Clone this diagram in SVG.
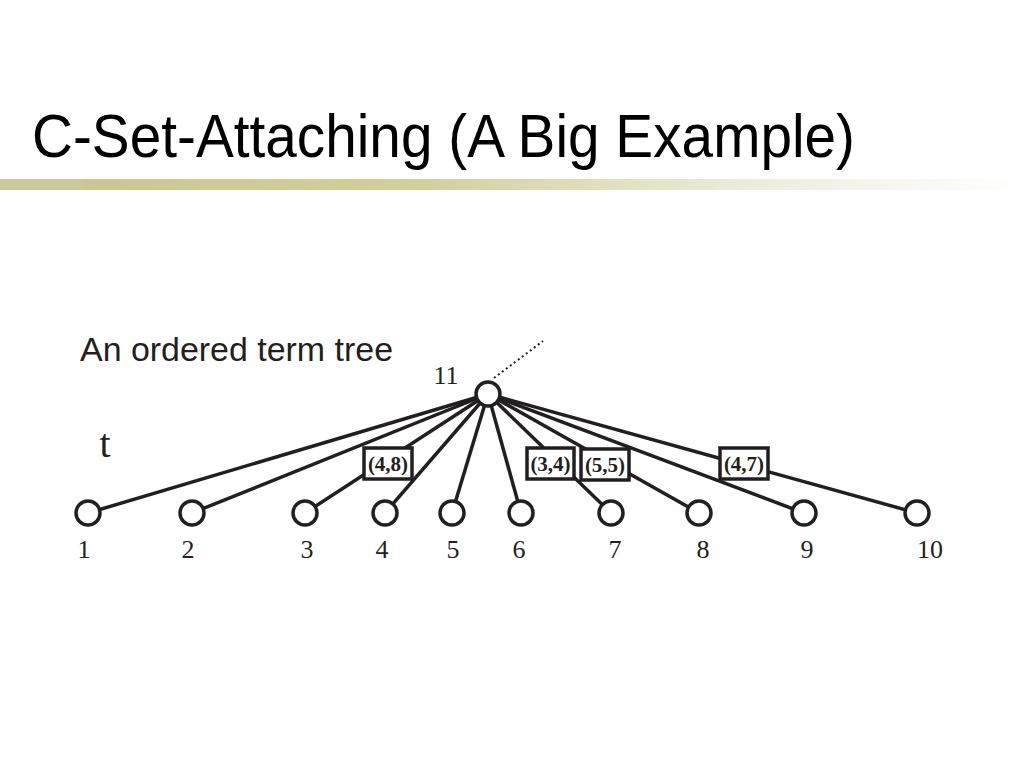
<svg xmlns="http://www.w3.org/2000/svg" width="1024" height="768" viewBox="0 0 1024 768">
  <defs>
    <linearGradient id="bar" x1="0" y1="0" x2="1" y2="0">
      <stop offset="0" stop-color="#c6c692"/>
      <stop offset="0.4" stop-color="#cfd09a"/>
      <stop offset="0.75" stop-color="#eeeede"/>
      <stop offset="1" stop-color="#ffffff"/>
    </linearGradient>
    <style>
      .edge { stroke: #231f20; stroke-width: 3.5; fill: none; }
      .node { fill: #ffffff; stroke: #231f20; stroke-width: 3.5; }
      .box { fill: #ffffff; stroke: #231f20; stroke-width: 3.5; }
      .lbl { font-family: "Liberation Serif", "Times New Roman", serif; font-size: 26px; fill: #231f20; text-anchor: middle; }
      .blbl { font-family: "Liberation Serif", "Times New Roman", serif; font-size: 21px; font-weight: bold; fill: #231f20; text-anchor: middle; }
    </style>
  </defs>
  <rect width="1024" height="768" fill="#ffffff"/>
  <text x="32" y="157" font-family="Liberation Sans, Arial, sans-serif" font-size="61" fill="#000000" textLength="823" lengthAdjust="spacingAndGlyphs">C-Set-Attaching (A Big Example)</text>
  <rect x="0" y="179" width="1024" height="11" fill="url(#bar)"/>
  <rect x="0" y="179" width="83" height="11" fill="#c9c99a"/>
  <text x="80" y="361" font-family="Liberation Sans, Arial, sans-serif" font-size="33" fill="#231f20" textLength="313" lengthAdjust="spacingAndGlyphs">An ordered term tree</text>
  <text x="105" y="457" font-family="Liberation Serif, Times New Roman, serif" font-size="40" fill="#231f20" text-anchor="middle">t</text>

  <g id="connectors">
    <line class="edge" x1="488" y1="394" x2="88" y2="513"/>
    <line class="edge" x1="488" y1="394" x2="192" y2="513"/>
    <line class="edge" x1="488" y1="394" x2="305" y2="513"/>
    <line class="edge" x1="488" y1="394" x2="385" y2="513"/>
    <line class="edge" x1="488" y1="394" x2="452" y2="513"/>
    <line class="edge" x1="488" y1="394" x2="521" y2="513"/>
    <line class="edge" x1="488" y1="394" x2="611" y2="513"/>
    <line class="edge" x1="488" y1="394" x2="699" y2="513"/>
    <line class="edge" x1="488" y1="394" x2="804" y2="513"/>
    <line class="edge" x1="488" y1="394" x2="917" y2="513"/>
    <line x1="494" y1="378" x2="543" y2="341" stroke="#231f20" stroke-width="2" stroke-dasharray="2,3"/>
  </g>

  <g id="label-4-8"><rect class="box" x="364" y="448" width="48" height="31"/><text class="blbl" x="388" y="471">(4,8)</text></g>
  <g id="label-3-4"><rect class="box" x="527" y="448" width="47" height="31"/><text class="blbl" x="550.5" y="471">(3,4)</text></g>
  <g id="label-5-5"><rect class="box" x="581" y="449" width="48" height="31"/><text class="blbl" x="605" y="472">(5,5)</text></g>
  <g id="label-4-7"><rect class="box" x="720" y="448" width="48" height="31"/><text class="blbl" x="744" y="471">(4,7)</text></g>

  <g id="node-11"><circle class="node" cx="488" cy="394" r="12"/><text class="lbl" x="446" y="384">11</text></g>
  <g id="node-1"><circle class="node" cx="88" cy="513" r="12"/><text class="lbl" x="84" y="558">1</text></g>
  <g id="node-2"><circle class="node" cx="192" cy="513" r="12"/><text class="lbl" x="188" y="558">2</text></g>
  <g id="node-3"><circle class="node" cx="305" cy="513" r="12"/><text class="lbl" x="307" y="558">3</text></g>
  <g id="node-4"><circle class="node" cx="385" cy="513" r="12"/><text class="lbl" x="382" y="558">4</text></g>
  <g id="node-5"><circle class="node" cx="452" cy="513" r="12"/><text class="lbl" x="453" y="558">5</text></g>
  <g id="node-6"><circle class="node" cx="521" cy="513" r="12"/><text class="lbl" x="519" y="558">6</text></g>
  <g id="node-7"><circle class="node" cx="611" cy="513" r="12"/><text class="lbl" x="615" y="558">7</text></g>
  <g id="node-8"><circle class="node" cx="699" cy="513" r="12"/><text class="lbl" x="703" y="558">8</text></g>
  <g id="node-9"><circle class="node" cx="804" cy="513" r="12"/><text class="lbl" x="807" y="558">9</text></g>
  <g id="node-10"><circle class="node" cx="917" cy="513" r="12"/><text class="lbl" x="930" y="558">10</text></g>
</svg>
